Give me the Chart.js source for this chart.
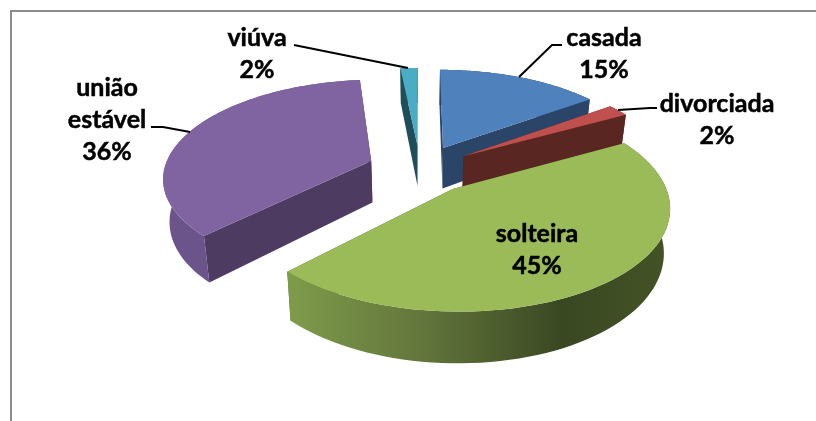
<!DOCTYPE html>
<html>
<head>
<meta charset="utf-8">
<title>Estado civil</title>
<style>
    html, body { margin: 0; padding: 0; background: #fff; overflow: hidden; }
    #wrap { position: relative; width: 816px; height: 421px; }
    #frame { position: absolute; left: 10px; top: 10px; right: 0; bottom: 0; border-top: 2px solid #8c8c8c; border-left: 2px solid #8c8c8c; }
    canvas { position: absolute; left: 0; top: 0; }
</style>
<script src="https://cdn.jsdelivr.net/npm/chart.js@4/dist/chart.umd.min.js"></script>
</head>
<body>
<div id="wrap">
    <div id="frame"></div>
    <canvas id="pie" width="816" height="421"></canvas>
</div>
<script>
const categories = ['casada', 'divorciada', 'solteira', 'união estável', 'viúva'];
// the labels show them rounded
const percents = [15, 2, 45.4, 36, 1.6];

// styles per slice
const topColors = ['#4F81BD', '#C0504D', '#9BBB59', '#8064A2', '#4BACC6'];
const faceColors = ['#2A4568', '#5A2622', '#4F6130', '#4D3B62', '#1F4E5A'];
const explode = [38, 38, 38, 38, 38];

// label layout: text lines are centred on x, one y per line
const labelLines = [['casada'], ['divorciada'], ['solteira'], ['união', 'estável'], ['viúva']];
const labelX = [604, 717, 537, 107, 257];
const labelY = [38, 104, 234, 88, 38];
const lineGap = 32;
const leaders = [
    [[519, 77], [552, 45], [562, 45]],
    [[618, 110], [650, 108], [657, 108]],
    null,
    [[190, 132], [163, 127], [151, 127]],
    [[408, 68], [294, 45]]
];

// 3d view of the pie plane
const radiusX = 207, radiusY = 96.4, perspective = 0.156, depth = 42, bottomShrink = 0.025;

function project(chartArc, u, v, h) {
    const s = 1 / (1 - perspective * v);
    const sx = s * (1 - bottomShrink * h / depth);
    return [chartArc.x + radiusX * u * sx, chartArc.y + (radiusY * v + h) * s];
}

function fillPoly(ctx, pts, fill) {
    ctx.beginPath();
    pts.forEach((p, i) => i ? ctx.lineTo(p[0], p[1]) : ctx.moveTo(p[0], p[1]));
    ctx.closePath();
    ctx.fillStyle = fill;
    ctx.fill();
}

function rimFill(ctx, index) {
    if (index === 2) {
        const g = ctx.createLinearGradient(286, 0, 670, 0);
        g.addColorStop(0, '#7F9C4A');
        g.addColorStop(0.35, '#63763C');
        g.addColorStop(0.72, '#3A4822');
        g.addColorStop(1, '#445326');
        return g;
    }
    if (index === 3) {
        return '#6B5489';
    }
    return faceColors[index];
}

const tiltedPie = {
    id: 'tiltedPie',
    beforeDatasetsDraw(chart) {
        const ctx = chart.ctx;
        const arcs = chart.getDatasetMeta(0).data;
        const shift = a => {
            const mid = (a.startAngle + a.endAngle) / 2;
            const d = a.options.offset / a.outerRadius;
            return [d * Math.cos(mid), d * Math.sin(mid)];
        };
        // far slices first
        const order = arcs.map((a, i) => i).sort((i, j) => shift(arcs[i])[1] - shift(arcs[j])[1]);
        order.forEach(i => {
            const a = arcs[i];
            const [du, dv] = shift(a);
            const edge = [];
            const steps = 72;
            for (let k = 0; k <= steps; k++) {
                const t = a.startAngle + (a.endAngle - a.startAngle) * k / steps;
                edge.push([du + Math.cos(t), dv + Math.sin(t)]);
            }
            const p = (q, h) => project(a, q[0], q[1], h);
            const apex = [du, dv];
            const first = edge[0], last = edge[steps];
            fillPoly(ctx, [p(apex, 0), p(first, 0), p(first, depth), p(apex, depth)], faceColors[i]);
            fillPoly(ctx, [p(apex, 0), p(last, 0), p(last, depth), p(apex, depth)], faceColors[i]);
            const rim = edge.map(q => p(q, 0)).concat(edge.slice().reverse().map(q => p(q, depth)));
            fillPoly(ctx, rim, rimFill(ctx, i));
            fillPoly(ctx, [p(apex, 0)].concat(edge.map(q => p(q, 0))), a.options.backgroundColor);
        });
        return false;
    },
    afterDraw(chart) {
        const ctx = chart.ctx;
        ctx.save();
        ctx.strokeStyle = '#000';
        ctx.lineWidth = 2;
        leaders.forEach(l => {
            if (!l) return;
            ctx.beginPath();
            l.forEach((p, i) => i ? ctx.lineTo(p[0], p[1]) : ctx.moveTo(p[0], p[1]));
            ctx.stroke();
        });
        ctx.fillStyle = '#000';
        ctx.lineWidth = 0.5;
        ctx.font = 'bold 25px Lato';
        ctx.textAlign = 'center';
        ctx.textBaseline = 'middle';
        categories.forEach((c, i) => {
            const lines = labelLines[i].concat(Math.round(percents[i]) + '%');
            lines.forEach((t, n) => {
                ctx.fillText(t, labelX[i], labelY[i] + n * lineGap);
                ctx.strokeText(t, labelX[i], labelY[i] + n * lineGap);
            });
        });
        ctx.restore();
    }
};

new Chart(document.getElementById('pie'), {
    type: 'pie',
    data: {
        labels: categories,
        datasets: [{
            data: percents,
            backgroundColor: topColors,
            borderWidth: 0,
            offset: explode
        }]
    },
    options: {
        responsive: false,
        animation: false,
        layout: { padding: { left: 24, bottom: 83 } },
        plugins: { legend: { display: false }, tooltip: { enabled: false } }
    },
    plugins: [tiltedPie]
});
</script>
</body>
</html>
